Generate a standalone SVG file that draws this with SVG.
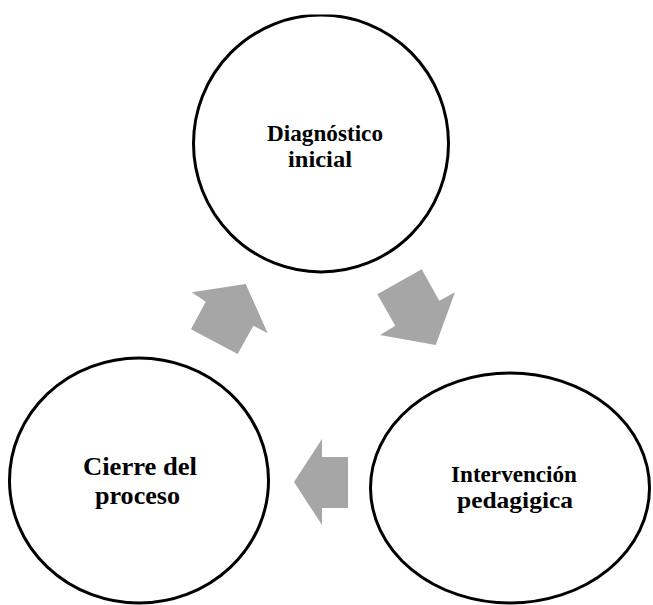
<svg xmlns="http://www.w3.org/2000/svg" width="653" height="605" viewBox="0 0 653 605">
  <style>
    .node { fill: #ffffff; stroke: #000000; stroke-width: 3; }
    .lbl { font-family: "Liberation Serif", "Times New Roman", serif; font-weight: bold; fill: #000000; }
    .arrow { fill: #a6a6a6; stroke: none; }
  </style>
  <defs>
    <clipPath id="page"><rect x="0" y="14.5" width="653" height="590.5"/></clipPath>
  </defs>
  <rect x="0" y="0" width="653" height="605" fill="#ffffff"/>
  <g clip-path="url(#page)">
    <g id="node-diagnostico">
      <ellipse class="node" cx="321" cy="143.5" rx="127.5" ry="128.5"/>
      <text class="lbl" font-size="23.5" x="267" y="141" textLength="116" lengthAdjust="spacingAndGlyphs">Diagnóstico</text>
      <text class="lbl" font-size="23.5" x="288" y="167" textLength="64" lengthAdjust="spacingAndGlyphs">inicial</text>
    </g>
    <g id="node-intervencion">
      <ellipse class="node" cx="510" cy="488" rx="139.5" ry="115"/>
      <text class="lbl" font-size="23.5" x="451" y="482" textLength="126" lengthAdjust="spacingAndGlyphs">Intervención</text>
      <text class="lbl" font-size="23.5" x="457" y="508" textLength="116" lengthAdjust="spacingAndGlyphs">pedagigica</text>
    </g>
    <g id="node-cierre">
      <ellipse class="node" cx="139" cy="480.5" rx="129.5" ry="122.5"/>
      <text class="lbl" font-size="26" x="83" y="475" textLength="114" lengthAdjust="spacingAndGlyphs">Cierre del</text>
      <text class="lbl" font-size="26" x="95" y="504" textLength="85" lengthAdjust="spacingAndGlyphs">proceso</text>
    </g>
    <g id="connectors">
      <polygon class="arrow" points="377.3,294.3 421.7,269.3 439.3,300.7 455,292.3 435.7,345 380,335 395.3,325.7"/>
      <polygon class="arrow" points="348,457 322,457 322,439 294,482 322,525 322,508 348,508"/>
      <polygon class="arrow" points="191.7,292.3 245.7,284 267.7,333.3 253.3,325.7 237.7,354 191,329.3 205.7,301.7"/>
    </g>
  </g>
</svg>
